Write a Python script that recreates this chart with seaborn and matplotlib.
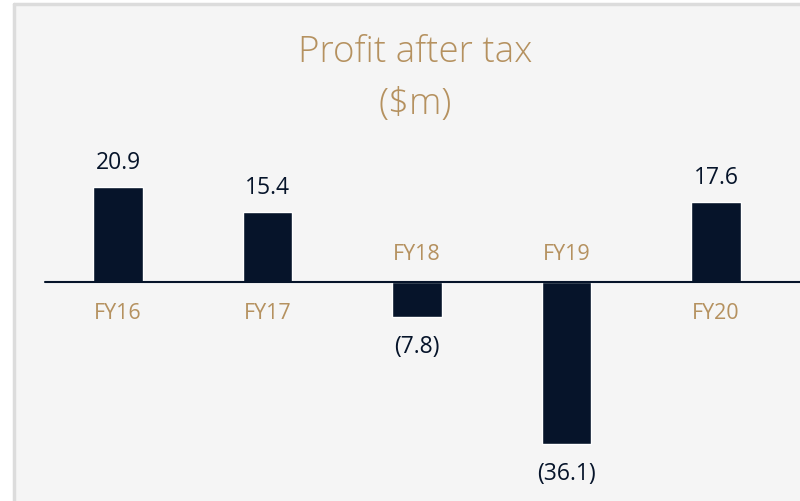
import numpy as np
import pandas as pd
import matplotlib
matplotlib.use("Agg")
import matplotlib.pyplot as plt
import seaborn as sns
from matplotlib.patches import Rectangle

# Data
years = ["FY16", "FY17", "FY18", "FY19", "FY20"]
profit = [20.9, 15.4, -7.8, -36.1, 17.6]
value_labels = ["20.9", "15.4", "(7.8)", "(36.1)", "17.6"]

navy = "#06142a"
gold = "#b5915f"
panel = "#f5f5f5"

sns.set_theme(style="white")
plt.rcParams['font.family'] = ['Open Sans', 'DejaVu Sans']

df = pd.DataFrame({"year": years, "profit": profit})

fig = plt.figure(figsize=(8, 5.01), dpi=100)
fig.patch.set_facecolor("white")
# panel with thin border on top/left
fig.patches.append(Rectangle((15 / 800, 0), 1 - 15 / 800, 1 - 4 / 501, transform=fig.transFigure,
                             facecolor=panel, edgecolor="none", zorder=-5))
fig.add_artist(plt.Line2D([14.5 / 800, 14.5 / 800], [0, 1 - 3.5 / 501], color="#dcdcdc", lw=2.5,
                          transform=fig.transFigure, zorder=-4))
fig.add_artist(plt.Line2D([14.5 / 800, 1], [1 - 3.5 / 501, 1 - 3.5 / 501], color="#dcdcdc", lw=2.5,
                          transform=fig.transFigure, zorder=-4))

ax = fig.add_axes([15 / 800, 0, 1 - 15 / 800, 1 - 4 / 501])
ax.set_facecolor("none")
sns.barplot(data=df, x="year", y="profit", color=navy, width=0.328, saturation=1, ax=ax, zorder=3)

ax.set_xlim((15 - 118) / 149.5, (800 - 118) / 149.5)
ax.set_ylim(-(501 - 281.5) / 4.5, (281.5 - 4) / 4.5)
ax.axis("off")

# zero line
ax.axhline(0, xmin=30 / 785, xmax=1, color=navy, lw=1.5, zorder=4)

# labels (baseline-anchored)
for i, (v, lab, yr) in enumerate(zip(profit, value_labels, years)):
    if v >= 0:
        ax.text(i, v + 4.15, lab, ha="center", va="baseline", fontsize=16.5, color=navy)
        ax.text(i, -8.3, yr, ha="center", va="baseline", fontsize=15.5, color=gold)
    else:
        ax.text(i, v - 8.1, lab, ha="center", va="baseline", fontsize=16.5, color=navy)
        ax.text(i, 4.7, yr, ha="center", va="baseline", fontsize=15.5, color=gold)

fig.text(415 / 800, 1 - 52 / 501, "Profit after tax", ha="center", va="center",
         fontsize=26.5, color=gold, fontweight="light")
fig.text(415 / 800, 1 - 105 / 501, "($m)", ha="center", va="center",
         fontsize=26.5, color=gold, fontweight="light")

fig.savefig("out.png", dpi=100)
